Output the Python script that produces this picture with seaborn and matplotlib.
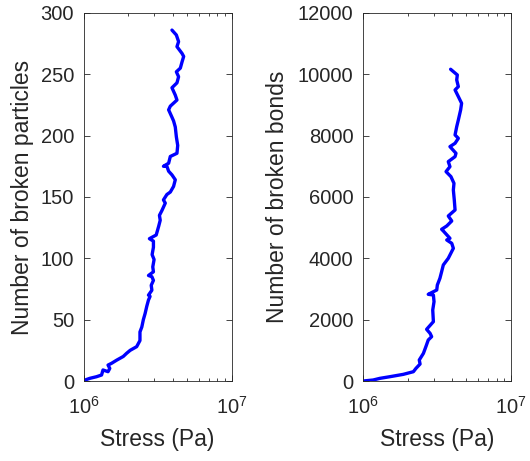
import numpy as np
import pandas as pd
import seaborn as sns
import matplotlib.pyplot as plt
from matplotlib.ticker import LogLocator, NullFormatter

# Broken particles vs stress
stress_particles = [1.02e6, 1.10e6, 1.22e6, 1.32e6, 1.35e6, 1.46e6, 1.50e6, 1.46e6, 1.54e6,
                    1.67e6, 1.85e6, 1.95e6, 2.06e6, 2.28e6, 2.40e6, 2.40e6, 2.47e6, 2.53e6,
                    2.60e6, 2.67e6, 2.74e6, 2.81e6, 2.74e6, 2.89e6, 2.86e6, 2.96e6, 2.89e6,
                    2.74e6, 2.96e6, 2.93e6, 2.99e6, 2.90e6, 2.96e6, 2.96e6, 2.78e6, 3.09e6,
                    3.21e6, 3.29e6, 3.25e6, 3.38e6, 3.56e6, 3.46e6, 3.65e6, 3.85e6, 4.05e6,
                    4.16e6, 3.95e6, 3.75e6, 3.65e6, 3.46e6, 3.75e6, 3.85e6, 4.27e6, 4.32e6,
                    4.23e6, 4.16e6, 4.05e6, 3.95e6, 3.75e6, 3.85e6, 4.27e6, 4.16e6, 3.95e6,
                    4.27e6, 4.38e6, 4.23e6, 4.50e6, 4.62e6, 4.74e6, 4.62e6, 4.27e6, 4.38e6,
                    4.23e6, 3.95e6]
n_particles = [0.8, 2.2, 3.5, 4.9, 9, 7.6, 10.3, 13, 14.4, 17, 20, 22.6, 25, 28, 33, 40,
               44, 50, 55, 61, 66, 69, 70, 74, 78, 82, 85, 86, 89, 93, 99, 103, 109, 114,
               116, 119, 126, 131, 135, 139, 145, 147.6, 152, 154, 158.6, 164, 168, 171,
               175, 175, 177.5, 183, 185.6, 192, 199, 207, 212, 215, 221, 224, 229, 233,
               239, 243, 248, 252, 255, 260, 264.5, 267, 272.5, 276.6, 282, 286]

# Broken bonds vs stress
stress_bonds = [1.00e6, 1.17e6, 1.30e6, 1.52e6, 1.87e6, 2.19e6, 2.28e6, 2.43e6, 2.40e6,
                2.56e6, 2.67e6, 2.76e6, 2.91e6, 2.84e6, 2.69e6, 2.99e6, 2.96e6, 3.02e6,
                2.99e6, 2.76e6, 3.15e6, 3.18e6, 3.31e6, 3.40e6, 3.49e6, 3.77e6, 4.08e6,
                3.98e6, 3.68e6, 3.87e6, 3.49e6, 3.40e6, 3.68e6, 3.98e6, 3.77e6, 4.19e6,
                4.14e6, 4.08e6, 4.12e6, 3.93e6, 3.64e6, 3.87e6, 3.77e6, 4.19e6, 4.25e6,
                3.87e6, 4.19e6, 4.41e6, 4.19e6, 4.30e6, 4.41e6, 4.57e6, 4.64e6, 4.41e6,
                4.19e6, 4.41e6, 4.30e6, 4.34e6, 4.08e6, 3.91e6]
n_bonds = [0, 33, 87, 141, 217, 304, 413, 554, 685, 902, 1141, 1337, 1446, 1554, 1685,
           1935, 2315, 2587, 2804, 2826, 2967, 3130, 3348, 3565, 3783, 4000, 4326, 4489,
           4598, 4652, 4891, 4946, 5054, 5217, 5380, 5576, 5902, 6228, 6445, 6663, 6826,
           6989, 7152, 7315, 7424, 7641, 7750, 7913, 8022, 8293, 8511, 8837, 9054, 9272,
           9489, 9598, 9815, 9978, 10087, 10163]

sns.set_style("ticks")
plt.rcParams["font.family"] = ["Liberation Sans", "DejaVu Sans"]
plt.rcParams["mathtext.fontset"] = "custom"
plt.rcParams["mathtext.rm"] = "Liberation Sans"
plt.rcParams["mathtext.it"] = "Liberation Sans"

fig = plt.figure(figsize=(5.3, 4.61), dpi=100)
ax1 = fig.add_axes([0.158, 0.1735, 0.279, 0.7985])
ax2 = fig.add_axes([0.685, 0.1735, 0.279, 0.7985])

df1 = pd.DataFrame({"stress": stress_particles, "count": n_particles})
df2 = pd.DataFrame({"stress": stress_bonds, "count": n_bonds})

panels = [
    (ax1, df1, "Number of broken particles", 300, 50, 5),
    (ax2, df2, "Number of broken bonds", 12000, 2000, 6.5),
]
for ax, df, ylabel, ymax, ystep, ypad in panels:
    sns.lineplot(data=df, x="stress", y="count", ax=ax, sort=False, estimator=None,
                 color="#0000ff", linewidth=2.4)
    ax.set_xscale("log")
    ax.set_xlim(1e6, 1e7)
    ax.set_ylim(0, ymax)
    ax.set_yticks(np.arange(0, ymax + 1, ystep))
    ax.xaxis.set_major_locator(LogLocator(base=10, numticks=5))
    ax.xaxis.set_minor_locator(LogLocator(base=10, subs=np.arange(2, 10), numticks=10))
    ax.xaxis.set_minor_formatter(NullFormatter())
    ax.set_xlabel("Stress (Pa)", fontsize=16.5, color="#262626", labelpad=7)
    ax.set_ylabel(ylabel, fontsize=16.5, color="#262626", labelpad=ypad)
    ax.tick_params(which="both", direction="in", top=True, right=True,
                   labelsize=14.5, colors="#262626", width=0.6)
    ax.tick_params(which="major", length=4)
    ax.tick_params(which="minor", length=2.5)
    ax.tick_params(axis="y", pad=7)
    ax.tick_params(axis="x", pad=11)
    for s in ax.spines.values():
        s.set_visible(True)
        s.set_color("#262626")
        s.set_linewidth(0.6)

fig.savefig("out.png", dpi=100)
